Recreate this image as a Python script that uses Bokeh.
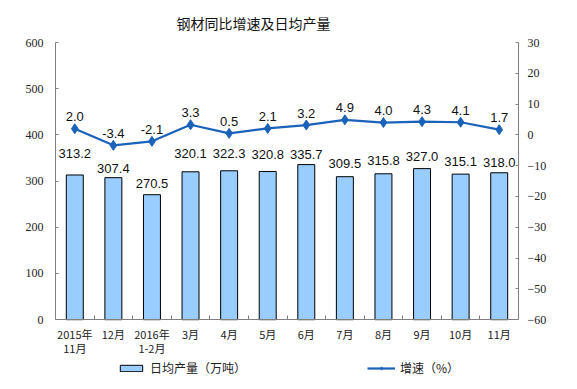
from bokeh.plotting import figure
from bokeh.models import (ColumnDataSource, Range1d, LinearAxis, FixedTicker,
                          Legend, LegendItem, Title, LabelSet)
from bokeh.core.properties import value
from bokeh.embed import file_html
from bokeh.resources import INLINE

categories = ["2015年\n11月", "12月", "2016年\n1-2月", "3月", "4月", "5月", "6月",
              "7月", "8月", "9月", "10月", "11月"]
daily_output = [313.2, 307.4, 270.5, 320.1, 322.3, 320.8, 335.7, 309.5, 315.8, 327.0, 315.1, 318.0]
growth = [2.0, -3.4, -2.1, 3.3, 0.5, 2.1, 3.2, 4.9, 4.0, 4.3, 4.1, 1.7]
left_ticks = [0, 100, 200, 300, 400, 500, 600]
right_ticks = [-60, -50, -40, -30, -20, -10, 0, 10, 20, 30]

# label vertical offsets in px (style only)
bar_label_dy = [21, 9, 11, 18, 17, 17, 10, 13, 13, 12, 13, 10]

# ---- layout geometry (pixels) ----
W, H = 569, 381
FRAME_TOP, ZERO_Y, BORDER_BOTTOM = 41, 319, 4
frame_bottom = H - BORDER_BOTTOM
L_MIN, L_MAX = left_ticks[0], left_ticks[-1]
R_MIN, R_MAX = right_ticks[0], right_ticks[-1]
l_ppu = (ZERO_Y - FRAME_TOP) / (L_MAX - L_MIN)
r_ppu = (ZERO_Y - FRAME_TOP) / (R_MAX - R_MIN)
l_low = L_MIN - (frame_bottom - ZERO_Y) / l_ppu
r_low = R_MIN - (frame_bottom - ZERO_Y) / r_ppu

src = ColumnDataSource(dict(
    cat=categories, out=daily_output, g=growth,
    out_txt=[f"{v:.1f}" for v in daily_output],
    g_txt=[f"{v:.1f}" for v in growth],
    dy=bar_label_dy,
    base=[L_MIN] * len(categories),
    line1=[c.split("\n")[0] for c in categories],
))
two = [c for c in categories if "\n" in c]
src2 = ColumnDataSource(dict(cat=two, base=[L_MIN] * len(two),
                             line2=[c.split("\n")[1] for c in two]))

AXIS_COL = "#7f7f7f"
CJK = "Noto Sans CJK SC"

p = figure(width=W, height=H, x_range=categories, y_range=Range1d(l_low, L_MAX),
           output_backend="svg", toolbar_location=None,
           x_axis_location=None, y_axis_location=None,
           min_border_left=55, min_border_right=51, min_border_top=FRAME_TOP,
           min_border_bottom=BORDER_BOTTOM)
p.x_range.range_padding = 0
p.outline_line_color = None
p.xgrid.visible = False
p.ygrid.visible = False
p.extra_y_ranges = {"g": Range1d(r_low, R_MAX)}

ly = LinearAxis(ticker=FixedTicker(ticks=left_ticks), bounds=(L_MIN, L_MAX))
ry = LinearAxis(y_range_name="g", ticker=FixedTicker(ticks=right_ticks), bounds=(R_MIN, R_MAX))
for ax, st in ((ly, 12), (ry, 9)):
    ax.axis_line_color = AXIS_COL
    ax.major_tick_line_color = AXIS_COL
    ax.major_tick_in = 3
    ax.major_tick_out = 0
    ax.minor_tick_line_color = None
    ax.major_label_text_font = "Liberation Serif"
    ax.major_label_text_font_size = "12px"
    ax.major_label_text_color = "#222222"
    ax.major_label_standoff = st
p.add_layout(ly, "left")
p.add_layout(ry, "right")

# baseline with category boundary ticks, drawn at value 0
tx = LinearAxis(ticker=FixedTicker(ticks=list(range(len(categories) + 1))), fixed_location=L_MIN)
tx.axis_line_color = AXIS_COL
tx.major_tick_line_color = AXIS_COL
tx.major_tick_in = 4
tx.major_tick_out = 0
tx.minor_tick_line_color = None
tx.major_label_text_font_size = "0px"
tx.major_label_text_color = None
tx.major_label_standoff = 0
p.add_layout(tx, "below")

bars = p.vbar(x="cat", top="out", width=0.44, source=src,
              fill_color="#99CCFF", line_color="#000000", line_width=1)

line = p.line(x="cat", y="g", y_range_name="g", source=src,
              line_color="#1A62BA", line_width=2.2)
pts = p.scatter(x="cat", y="g", y_range_name="g", source=src, marker="diamond",
                size=10, fill_color="#1A62BA", line_color="#1A62BA")

p.add_layout(LabelSet(x="cat", y="out", text="out_txt", source=src, y_offset="dy",
                      text_align="center", text_baseline="middle",
                      text_font=value("Liberation Sans"), text_font_size="13px",
                      text_color="#111111"))
p.add_layout(LabelSet(x="cat", y="g", y_range_name="g", text="g_txt", source=src, y_offset=12,
                      text_align="center", text_baseline="middle",
                      text_font=value("Liberation Sans"), text_font_size="13px",
                      text_color="#111111"))

# category tick labels
p.add_layout(LabelSet(x="cat", y="base", text="line1", source=src, y_offset=-14,
                      text_align="center", text_baseline="middle",
                      text_font=value(CJK), text_font_size="11px", text_color="#222222"))
p.add_layout(LabelSet(x="cat", y="base", text="line2", source=src2, y_offset=-28,
                      text_align="center", text_baseline="middle",
                      text_font=value(CJK), text_font_size="11px", text_color="#222222"))

title = Title(text="钢材同比增速及日均产量", align="left", offset=121, standoff=20,
              text_font=CJK, text_font_size="14px", text_font_style="normal",
              text_color="#111111")
p.add_layout(title, "above")

legend = Legend(items=[LegendItem(label="日均产量（万吨）", renderers=[bars]),
                       LegendItem(label="增速（%）", renderers=[line, pts])],
                orientation="horizontal", location=(62, 1),
                glyph_width=28, glyph_height=8, label_standoff=5, spacing=121,
                padding=0, margin=0, border_line_color=None, background_fill_alpha=0,
                label_text_font=CJK, label_text_font_size="12px", label_text_color="#222222")
p.add_layout(legend, "center")

open("out.html", "w").write(file_html(p, INLINE))
